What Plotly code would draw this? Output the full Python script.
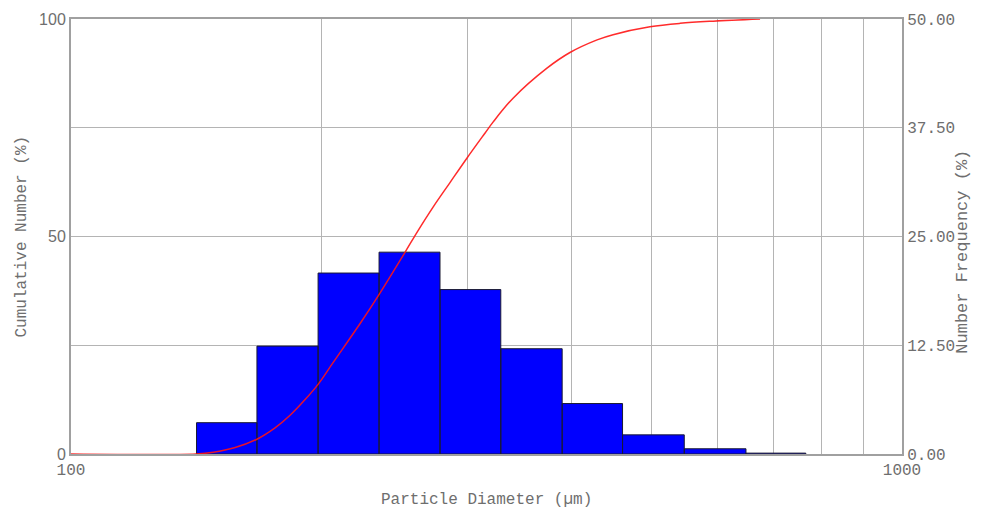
import plotly.graph_objects as go

# Size classes (µm) and number frequency (%) per class
bin_edges = [141.6, 167.4, 198.3, 234.8, 278.0, 329.0, 390.0, 461.0, 547.0, 649.0, 766.0]
number_freq = [3.6, 12.4, 20.8, 23.2, 18.9, 12.1, 5.8, 2.2, 0.6, 0.1]

# Smoothed cumulative number curve (%)
cum_diam = [100, 141.4, 148.3, 157.6, 167.4, 176.0, 183.5, 191.3, 198.3, 206.7,
            222.8, 235.4, 252.2, 261.5, 272.6, 285.8, 299.5, 315.0, 322.0, 340.4,
            373.9, 398.5, 429.6, 449.1, 497.4, 540.6, 592.5, 674.8]
cum_number = [0, 0, 0.4, 1.5, 3.4, 6.0, 8.9, 12.5, 16.0, 21.0,
              30.0, 37.0, 46.3, 51.3, 56.7, 62.4, 68.0, 73.8, 76.3, 81.8,
              88.7, 92.3, 95.2, 96.4, 98.2, 99.0, 99.5, 100]

x_tick_vals = [100, 200, 300, 400, 500, 600, 700, 800, 900, 1000]
x_tick_text = ["100", "", "", "", "", "", "", "", "", "1000"]
left_tick_vals = [0, 25, 50, 75, 100]
left_tick_text = ["0", "", "50", "", "100"]
right_tick_vals = [0, 12.5, 25, 37.5, 50]
right_tick_text = ["0.00", "12.50", "25.00", "37.50", "50.00"]

# histogram bars as closed outlines
bx, by = [], []
for lo, hi, f in zip(bin_edges[:-1], bin_edges[1:], number_freq):
    bx += [lo, lo, hi, hi, lo, None]
    by += [0, f, f, 0, 0, None]

mono = "Liberation Mono, DejaVu Sans Mono, monospace"
grey = "#6e6e6e"

fig = go.Figure()
fig.add_trace(go.Scatter(
    x=bx, y=by, mode="lines", fill="toself", fillcolor="#0000ff",
    line=dict(color="#1a1a33", width=1), yaxis="y", hoverinfo="skip",
    showlegend=False,
))
fig.add_trace(go.Scatter(
    x=cum_diam, y=cum_number, mode="lines", cliponaxis=False,
    line=dict(color="rgba(255,20,20,0.9)", width=1.5, shape="spline", smoothing=1.0),
    yaxis="y2", showlegend=False,
))

fig.update_layout(
    width=981, height=513,
    margin=dict(l=71, r=79, t=19, b=59),
    paper_bgcolor="white", plot_bgcolor="white",
    xaxis=dict(
        type="log", range=[2, 3], tickvals=x_tick_vals, ticktext=x_tick_text,
        showgrid=True, gridcolor="#b4b4b4", gridwidth=1,
        showline=True, linecolor="#a0a0a0", linewidth=2, mirror=True,
        ticks="", tickfont=dict(family=mono, size=16, color=grey),
        zeroline=False, layer="below traces",
    ),
    yaxis=dict(
        range=[0, 50], side="right", tickvals=right_tick_vals, ticktext=right_tick_text,
        showgrid=True, gridcolor="#b4b4b4", gridwidth=1,
        showline=True, linecolor="#a0a0a0", linewidth=2,
        ticks="", tickfont=dict(family=mono, size=16, color=grey),
        zeroline=False, layer="below traces",
    ),
    yaxis2=dict(
        range=[0, 100], side="left", overlaying="y", tickvals=left_tick_vals,
        ticktext=left_tick_text, showgrid=False,
        showline=True, linecolor="#a0a0a0", linewidth=2,
        ticks="", tickfont=dict(family="Liberation Sans, Arial, sans-serif", size=16, color=grey),
        zeroline=False, layer="below traces",
    ),
    annotations=[
        dict(text="Cumulative Number (%)", xref="paper", yref="paper", x=0, y=0.5,
             xshift=-50, textangle=-90, showarrow=False, xanchor="center", yanchor="middle",
             font=dict(family=mono, size=16, color=grey)),
        dict(text="Number Frequency (%)", xref="paper", yref="paper", x=1, y=0.465,
             xshift=61, textangle=-90, showarrow=False, xanchor="center", yanchor="middle",
             font=dict(family=mono, size=17, color=grey)),
        dict(text="Particle Diameter (µm)", xref="paper", yref="paper", x=0.5, y=0,
             yshift=-46, showarrow=False, xanchor="center", yanchor="middle",
             font=dict(family=mono, size=16, color=grey)),
    ],
)

fig.write_html("out.html")
